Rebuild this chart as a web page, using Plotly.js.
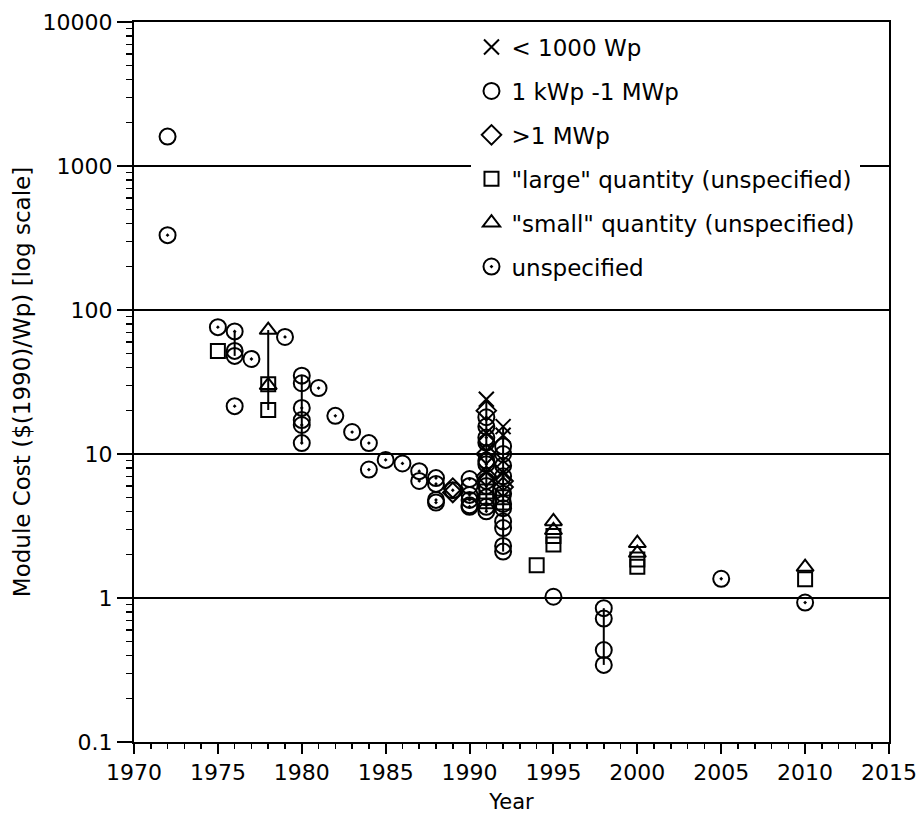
<!DOCTYPE html>
<html>
<head>
<meta charset="utf-8">
<script src="https://cdn.plot.ly/plotly-3.0.1.min.js"></script>
<style>html,body{margin:0;padding:0;background:#fff;}#chart{width:920px;height:820px;}</style>
</head>
<body>
<div id="chart"></div>
<script>
// ---- data ----
const seriesNames = ["< 1000 Wp", "1 kWp -1 MWp", ">1 MWp", "\"large\" quantity (unspecified)", "\"small\" quantity (unspecified)", "unspecified"];

const xSmall = [1991, 1991, 1991, 1991, 1992, 1992, 1992, 1992];
const ySmall = [24, 14, 10.5, 7.5, 15.5, 13.5, 9.0, 7.4];

const xMid = [1972, 1976, 1976, 1980, 1980, 1990, 1990, 1991, 1991, 1991, 1991, 1991, 1991, 1992, 1992, 1992, 1992, 1992, 1992, 1992, 1995, 1998, 1998, 1998, 1998];
const yMid = [1600, 52, 48, 35, 17.2, 6.0, 4.4, 15.5, 12, 9, 6.5, 5.0, 4.3, 11.3, 8.3, 5.3, 4.2, 3.4, 2.3, 2.1, 1.02, 0.85, 0.72, 0.435, 0.343];

const xBig = [1989, 1989, 1991, 1991, 1991, 1992, 1992];
const yBig = [5.8, 5.4, 20, 10, 7, 6.5, 5.9];

const xLarge = [1975, 1978, 1978, 1991, 1991, 1992, 1992, 1994, 1995, 1995, 2000, 2000, 2010];
const yLarge = [52, 30.5, 20.2, 5.5, 4.7, 5.0, 4.6, 1.69, 2.7, 2.35, 1.85, 1.65, 1.35];

const xSmallQ = [1978, 1978, 1995, 1995, 2000, 2000, 2010];
const ySmallQ = [72.6, 30, 3.4, 2.95, 2.4, 2.05, 1.64];

const xUnspec = [1972, 1975, 1976, 1976, 1977, 1979, 1980, 1980, 1980, 1980, 1981, 1982, 1983, 1984, 1984, 1985, 1986, 1987, 1987, 1988, 1988, 1988, 1988, 1989, 1990, 1990, 1990, 1990, 1991, 1991, 1991, 1991, 1991, 1992, 1992, 1992, 1992, 2005, 2010];
const yUnspec = [331, 76, 71, 21.5, 45.7, 65, 31, 20.9, 15.9, 11.9, 28.7, 18.4, 14.2, 11.9, 7.8, 9.1, 8.6, 7.6, 6.5, 6.8, 6.2, 4.8, 4.6, 5.6, 6.7, 5.2, 4.8, 4.3, 18, 13, 8.5, 6, 4.0, 10, 7, 4.5, 3.06, 1.36, 0.93];

// vertical range bars
const rangeYears = [1976, 1978, 1980, 1991, 1992, 1998];
const rangeLow   = [48, 20.2, 11.9, 4.0, 2.1, 0.343];
const rangeHigh  = [71, 72.6, 35, 24, 15.5, 0.85];

const yTickVals = [0.1, 1, 10, 100, 1000, 10000];
const yTickText = ["0.1", "1", "10", "100", "1000", "10000"];

// ---- build traces ----
const FONT = "DejaVu Sans, Liberation Sans, Arial, sans-serif";
const lx = [], ly = [];
rangeYears.forEach((yr, i) => { lx.push(yr, yr, null); ly.push(rangeLow[i], rangeHigh[i], null); });

// minor log ticks 2..9 within each decade (axis furniture)
const yMinorVals = [];
for (let i = 0; i < yTickVals.length - 1; i++) {
  for (let k = 2; k <= 9; k++) yMinorVals.push(k * yTickVals[i]);
}

const rangeTrace = {x: lx, y: ly, mode: "lines", line: {color: "black", width: 2}, showlegend: false, hoverinfo: "skip"};

function mk(x, y, name, symbol, size) {
  return {
    x: x, y: y, name: name, mode: "markers", legendgroup: name,
    marker: {symbol: symbol, size: size, color: "black", line: {color: "black", width: 2}}
  };
}

const traces = [
  rangeTrace,
  mk(xSmall, ySmall, seriesNames[0], "x-thin-open", 15),
  mk(xMid, yMid, seriesNames[1], "circle-open", 16),
  mk(xBig, yBig, seriesNames[2], "diamond-open", 15),
  mk(xLarge, yLarge, seriesNames[3], "square-open", 14),
  mk(xSmallQ, ySmallQ, seriesNames[4], "triangle-up-open", 15),
  mk(xUnspec, yUnspec, seriesNames[5], "circle-open-dot", 16)
];

const layout = {
  width: 920, height: 820,
  margin: {l: 134, r: 31, t: 22, b: 78},
  paper_bgcolor: "white", plot_bgcolor: "white",
  font: {family: FONT, color: "black", size: 21},
  showlegend: true,
  legend: {
    x: 0.447, y: 0.995, xanchor: "left", yanchor: "top",
    bgcolor: "white", borderwidth: 0,
    font: {family: FONT, size: 23, color: "black"},
    tracegroupgap: 11, itemwidth: 30
  },
  xaxis: {
    range: [1970, 2015], dtick: 5, tick0: 1970,
    ticks: "outside", ticklen: 10, tickwidth: 2, tickcolor: "black",
    minor: {dtick: 1, ticks: "outside", ticklen: 5, tickwidth: 1.5, tickcolor: "black", showgrid: false},
    showgrid: false, zeroline: false,
    showline: true, linecolor: "black", linewidth: 2, mirror: true,
    tickfont: {family: FONT, size: 22, color: "black"},
    title: {text: "Year", font: {family: FONT, size: 21, color: "black"}, standoff: 10}
  },
  yaxis: {
    type: "log", range: [-1, 4],
    tickmode: "array", tickvals: yTickVals, ticktext: yTickText,
    ticks: "outside", ticklen: 15, tickwidth: 2, tickcolor: "black",
    minor: {tickmode: "array", tickvals: yMinorVals, ticks: "outside", ticklen: 6, tickwidth: 1.5, tickcolor: "black", showgrid: false},
    showgrid: true, gridcolor: "black", gridwidth: 2,
    zeroline: false,
    showline: true, linecolor: "black", linewidth: 2, mirror: true,
    tickfont: {family: FONT, size: 22, color: "black"},
    title: {text: "Module Cost ($(1990)/Wp) [log scale]", font: {family: FONT, size: 23, color: "black"}, standoff: 6}
  }
};

Plotly.newPlot("chart", traces, layout, {displayModeBar: false, staticPlot: true});
</script>
</body>
</html>
